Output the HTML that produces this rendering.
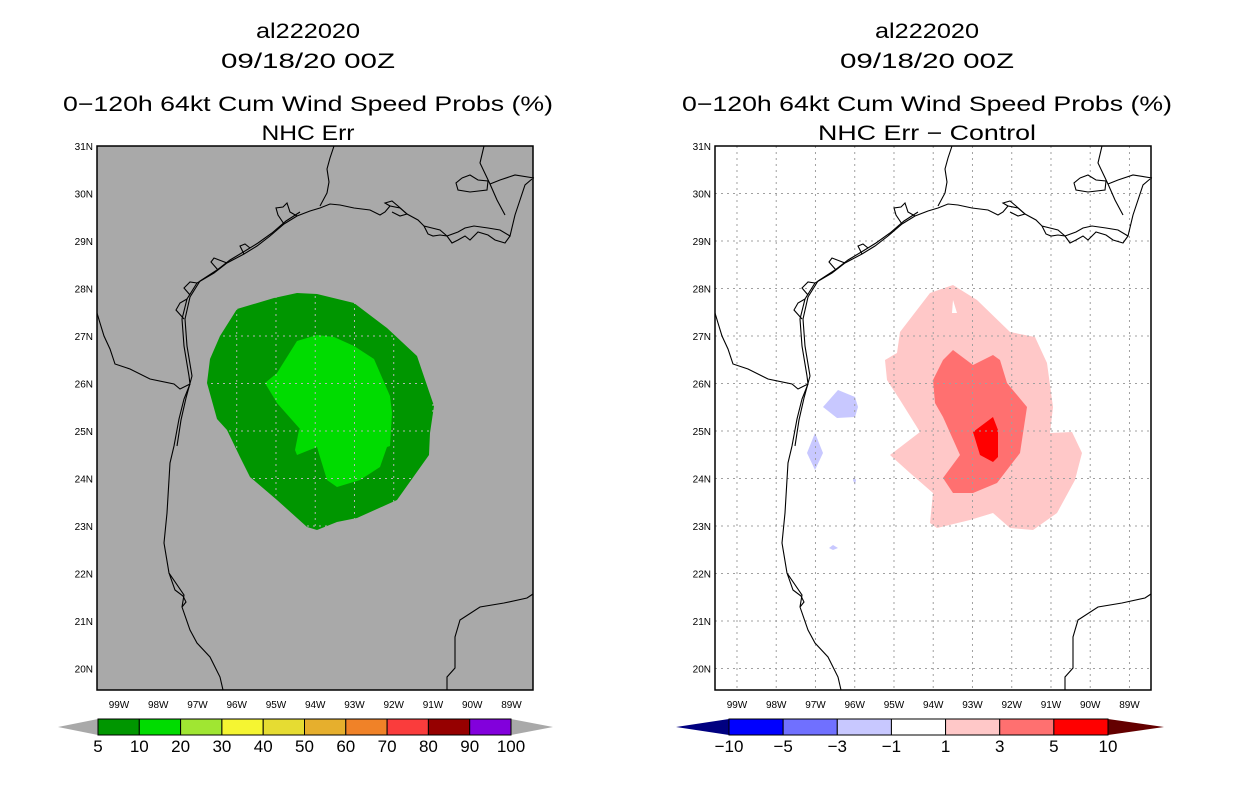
<!DOCTYPE html>
<html><head><meta charset="utf-8"><style>
html,body{margin:0;padding:0;background:#fff;}
svg{display:block;font-family:"Liberation Sans",sans-serif;}
</style></head><body>
<svg id="c" width="1236" height="800" viewBox="0 0 1236 800"></svg>
<script>
const latTicks=[31,30,29,28,27,26,25,24,23,22,21,20];
const lonTicks=[99,98,97,96,95,94,93,92,91,90,89];
const leftLevels=["5","10","20","30","40","50","60","70","80","90","100"];
const leftColors=["#009600","#00dc00","#a0e632","#f5f532","#e6dc32","#e6af2d","#f08228","#fa3c3c","#960000","#8200dc"];
const rightLevels=["\u221210","\u22125","\u22123","\u22121","1","3","5","10"];
const rightColors=["#0000ff","#7070ff","#c8c8ff","#ffffff","#ffc8c8","#ff7070","#ff0000"];

const NS="http://www.w3.org/2000/svg";
const svg=document.getElementById('c');
function el(tag,attrs,parent,text){const e=document.createElementNS(NS,tag);for(const k in attrs)e.setAttribute(k,attrs[k]);if(text!==undefined)e.textContent=text;(parent||svg).appendChild(e);return e;}
function xs(lonW){return 97+(99.56-lonW)*39.25;}
function ys(lat){return 146+(31-lat)*47.5;}
function pts(a){return a.map(p=>p.join(',')).join(' ');}

const coastMain=[[532,179],[525,185],[520,200],[515,215],[510,236],[500,230],[488,228],[474,226],[465,228],[458,232],[447,236],[440,230],[432,228],[424,226],[418,220],[407,214],[400,208],[390,206],[385,212],[380,215],[370,210],[354,208],[340,205],[330,204],[320,208],[310,211],[297,216],[284,224],[270,236],[257,246],[244,254],[227,263],[214,273],[197,283],[187,299],[182,319],[184,346],[189,376],[190,384],[184,399],[179,419],[174,446],[170,463],[167,513],[164,543],[169,573],[184,595],[182,607],[190,630],[197,643],[210,657],[220,677],[223,690]];
const coastIsland=[[300,212],[286,221],[272,233],[258,243],[245,251],[230,260],[217,270],[200,281],[190,297],[185,319],[187,346],[192,376],[186,398],[181,420],[177,446]];
const bay1=[[284,224],[278,215],[276,208],[283,207],[287,203],[290,212],[297,216]];
const bay2=[[227,263],[214,258],[211,262],[218,270]];
const bay3=[[244,254],[240,246],[245,244],[250,248]];
const bay4=[[197,283],[190,282],[184,288],[190,295]];
const bay5=[[187,299],[180,303],[176,310],[184,319]];
const laBay=[[390,206],[385,203],[392,201],[398,206],[407,214],[400,216],[392,212]];
const laMarsh=[[424,226],[428,234],[433,236],[440,235],[447,236],[452,243],[458,240],[465,236],[470,240],[478,232],[488,235],[495,240],[505,243],[510,236]];
const border=[[190,384],[180,389],[174,384],[150,379],[130,369],[115,364],[110,349],[104,336],[100,323],[97,313]];
const river=[[334,146],[330,158],[327,169],[329,182],[327,193],[320,206]];
const miss=[[484,146],[480,163],[490,184],[497,200],[505,215]];
const pont=[[462,178],[470,175],[478,180],[488,181],[487,190],[470,192],[458,190],[456,183],[462,178]];
const bayA=[[534,178],[515,175],[500,180],[490,184]];
const mexS=[[447,690],[447,677],[455,668],[455,637],[460,620],[480,607],[504,603],[527,598],[533,594]];
const mexBay=[[169,573],[175,590],[183,596],[186,602],[182,607]];

const darkGreen=[[237,309],[274,298],[297,293],[317,294],[354,303],[387,328],[417,356],[434,406],[430,433],[429,455],[397,500],[357,518],[337,522],[317,530],[307,527],[277,500],[250,477],[240,457],[227,430],[217,419],[207,383],[210,359],[220,336]];
const lightGreen=[[297,341],[317,335],[334,337],[354,346],[374,359],[390,396],[392,413],[390,446],[387,447],[380,467],[360,480],[337,487],[327,480],[320,457],[317,447],[297,455],[295,450],[299,430],[300,429],[277,403],[265,383],[277,373]];

const pinkOuter=[[953,285],[977,300],[1010,332],[1035,337],[1047,363],[1053,407],[1050,433],[1072,432],[1082,453],[1075,480],[1057,513],[1033,530],[1010,528],[993,513],[970,520],[937,528],[930,523],[933,493],[910,473],[890,455],[920,432],[900,400],[887,380],[885,360],[897,353],[900,332],[930,293]];
const pinkHole=[[953,300],[957,313],[952,313]];
const pinkMid=[[953,350],[973,365],[993,355],[1000,360],[1007,383],[1027,407],[1020,453],[997,483],[973,493],[953,493],[943,478],[960,455],[943,417],[935,403],[933,380],[943,360]];
const redCore=[[993,417],[998,430],[998,457],[993,462],[980,455],[973,432]];
const blueA=[[838,390],[855,397],[858,407],[855,417],[837,418],[823,407]];
const blueB=[[815,433],[823,453],[815,470],[807,453]];
const blueC=[[854,477],[856,480],[855,485],[853,480]];
const blueD=[[833,545],[838,548],[833,550],[829,548]];

function titles(cx,l4,w4){
  const g=el('g',{});
  const lines=[["al222020",30,104],["09/18/20 00Z",60,174],["0\u2212120h 64kt Cum Wind Speed Probs (%)",103,490],[l4,132,w4]];
  lines.forEach(([t,y,w],i)=>{
    const tx=el('text',{x:cx-w/2,y:y+8,'font-size':21,textLength:w,lengthAdjust:'spacingAndGlyphs',fill:'#000'},g,t);
    
    
  });
}
function panel(off,name,bg){
  const g=el('g',{transform:`translate(${off},0)`});
  
  
  el('rect',{x:97,y:146,width:436,height:544,fill:bg},g);
  return g;
}
function gridAndAxes(g,gridColor,dash){
  const gg=el('g',{stroke:gridColor,'stroke-width':1,'stroke-dasharray':dash},g);
  
  
  lonTicks.forEach(l=>el('line',{x1:xs(l),x2:xs(l),y1:146,y2:690},gg));
  latTicks.forEach(l=>{if(l<31)el('line',{x1:97,x2:533,y1:ys(l),y2:ys(l)},gg);});
  return gg;
}
function coast(g){
  const cg=el('g',{fill:'none',stroke:'#000','stroke-width':1.1},g);
  
  
  [coastMain,coastIsland,bay1,bay2,bay3,bay4,bay5,laBay,laMarsh,border,river,miss,pont,bayA,mexS,mexBay].forEach(a=>el('polyline',{points:pts(a)},cg));
}
function labels(g){
  const lg=el('g',{'font-size':10,fill:'#000'},g);
  
  
  latTicks.forEach(l=>{const t=el('text',{x:93,y:ys(l)+4,'text-anchor':'end'},lg,l+'N');});
  lonTicks.forEach(l=>{const t=el('text',{x:xs(l),y:708,'text-anchor':'middle'},lg,l+'W');});
  el('rect',{x:97,y:146,width:436,height:544,fill:'none',stroke:'#000','stroke-width':1.5},g);
}
function colorbar(name,x0,x1,tipL,tipR,colors,levels,tipLc,tipRc){
  const g=el('g',{});
  
  
  const y0=719,y1=735,ym=727;
  el('polygon',{points:`${tipL},${ym} ${x0},${y0} ${x0},${y1}`,fill:tipLc},g);
  el('polygon',{points:`${tipR},${ym} ${x1},${y0} ${x1},${y1}`,fill:tipRc},g);
  const w=(x1-x0)/colors.length;
  colors.forEach((c,i)=>{const r=el('rect',{x:x0+i*w,y:y0,width:w,height:y1-y0,fill:c,stroke:'#000','stroke-width':1},g);});
  levels.forEach((t,i)=>{const tx=el('text',{x:x0+i*w,y:752,'text-anchor':'middle','font-size':17,fill:'#000'},g,t);});
}

const defs=el('defs',{});
const cp=el('clipPath',{id:'gclip'},defs);
el('polygon',{points:pts(darkGreen)},cp);

titles(308,"NHC Err",93);
const L=panel(0,'left-map','#a9a9a9');
el('polygon',{points:pts(darkGreen),fill:'#009600'},L);
el('polygon',{points:pts(lightGreen),fill:'#00dc00'},L);
const lgrid=gridAndAxes(L,'#b4b4b4','2,4');
lgrid.setAttribute('clip-path','url(#gclip)');
coast(L);
labels(L);

titles(927,"NHC Err \u2212 Control",218);
const R=panel(618,'right-map','#ffffff');
const rg=el('g',{transform:'translate(-618,0)'},R);
el('polygon',{points:pts(pinkOuter),fill:'#ffc8c8'},rg);
el('polygon',{points:pts(pinkHole),fill:'#ffffff'},rg);
el('polygon',{points:pts(pinkMid),fill:'#ff7070'},rg);
el('polygon',{points:pts(redCore),fill:'#ff0000'},rg);
[blueA,blueB,blueC,blueD].forEach(a=>el('polygon',{points:pts(a),fill:'#c8c8ff'},rg));
gridAndAxes(R,'#a0a0a0','2,4');
coast(R);
labels(R);

colorbar('left-colorbar',98,511,58,553,leftColors,leftLevels,'#a9a9a9','#a9a9a9');
colorbar('right-colorbar',729,1108,676,1164,rightColors,rightLevels,'#000080','#640000');
</script>
</body></html>
